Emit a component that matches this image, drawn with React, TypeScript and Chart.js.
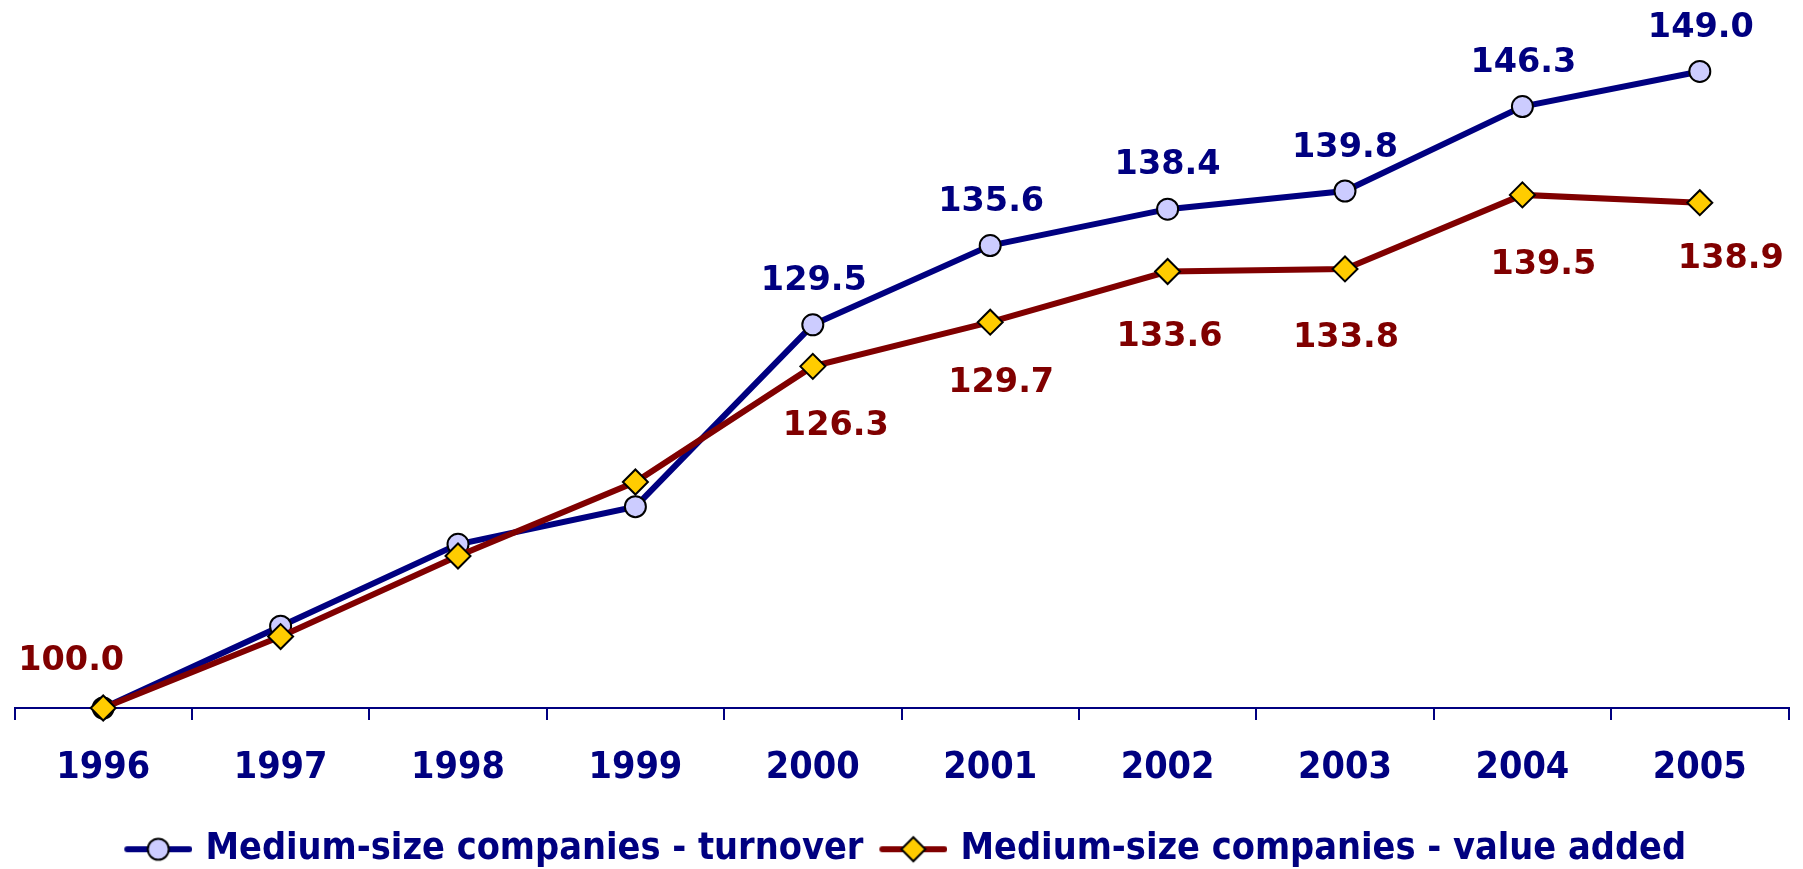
import React, { useEffect, useRef } from "react";
import { Chart, registerables } from "chart.js";

Chart.register(...registerables);

// ---- data ----
const years = ["1996", "1997", "1998", "1999", "2000", "2001", "2002", "2003", "2004", "2005"];
const turnover = [100.0, 106.3, 112.6, 115.5, 129.5, 135.6, 138.4, 139.8, 146.3, 149.0];
const valueAdded = [100.0, 105.5, 111.7, 117.4, 126.3, 129.7, 133.6, 133.8, 139.5, 138.9];
const seriesNames = ["Medium-size companies - turnover", "Medium-size companies - value added"];

// ---- label placement (offsets of label centre from its point, px; null = no label) ----
const turnoverLabelOffsets: ([number, number] | null)[] = [
  null, null, null, null, [1, -47], [1, -47], [0, -47], [0, -46], [1, -47], [1, -47],
];
const valueAddedLabelOffsets: ([number, number] | null)[] = [
  [-32, -50], null, null, null, [23, 56], [11, 58], [2, 62], [1, 66], [21, 67], [31, 53],
];

const NAVY = "#000080";
const MAROON = "#800000";
const CIRCLE_FILL = "#CCCCFF";
const DIAMOND_FILL = "#FFCC00";
const FAMILY = "'DejaVu Sans Condensed', 'DejaVu Sans', sans-serif";
const LABEL_FAMILY = "'DejaVu Sans', sans-serif";
const LABEL_SIZE = 33.5;
const TICK_SIZE = 37.5;
const LEGEND_SIZE = 37.5;

function makeLegendMarker(kind: "circle" | "diamond"): HTMLCanvasElement {
  const c = document.createElement("canvas");
  const W = 76;
  const H = 30;
  c.width = W;
  c.height = H;
  const g = c.getContext("2d")!;
  const x0 = 8;
  const x1 = 76;
  const cy = H / 2;
  const cx = (x0 + x1) / 2;
  g.lineCap = "round";
  g.lineWidth = 6;
  g.strokeStyle = kind === "circle" ? NAVY : MAROON;
  g.beginPath();
  g.moveTo(x0 + 3, cy);
  g.lineTo(x1 - 3, cy);
  g.stroke();
  g.lineWidth = 2;
  g.strokeStyle = "#000000";
  if (kind === "circle") {
    g.fillStyle = CIRCLE_FILL;
    g.beginPath();
    g.arc(cx, cy, 10.5, 0, Math.PI * 2);
    g.fill();
    g.stroke();
  } else {
    g.fillStyle = DIAMOND_FILL;
    const r = 12;
    g.beginPath();
    g.moveTo(cx, cy - r);
    g.lineTo(cx + r, cy);
    g.lineTo(cx, cy + r);
    g.lineTo(cx - r, cy);
    g.closePath();
    g.fill();
    g.stroke();
  }
  return c;
}

const pointLabelPlugin = {
  id: "pointLabels",
  afterDatasetsDraw(chart: any) {
    const ctx = chart.ctx as CanvasRenderingContext2D;
    chart.data.datasets.forEach((ds: any, i: number) => {
      const meta = chart.getDatasetMeta(i);
      const offs = ds.labelOffsets as ([number, number] | null)[];
      meta.data.forEach((pt: any, j: number) => {
        const o = offs[j];
        if (!o) return;
        ctx.save();
        ctx.font = `bold ${LABEL_SIZE}px ${LABEL_FAMILY}`;
        ctx.fillStyle = ds.labelColor;
        ctx.textAlign = "center";
        ctx.textBaseline = "alphabetic";
        ctx.fillText((ds.data[j] as number).toFixed(1), pt.x + o[0], pt.y + o[1] + LABEL_SIZE * 0.729 / 2);
        ctx.restore();
      });
    });
  },
};

export default function App() {
  const ref = useRef<HTMLCanvasElement | null>(null);

  useEffect(() => {
    if (!ref.current) return;
    const markers = [makeLegendMarker("circle"), makeLegendMarker("diamond")];
    const chart = new Chart(ref.current, {
      type: "line",
      data: {
        labels: years,
        datasets: [
          {
            label: seriesNames[0],
            data: turnover,
            borderColor: NAVY,
            borderWidth: 6,
            pointStyle: "circle",
            pointRadius: 10.5,
            pointBackgroundColor: CIRCLE_FILL,
            pointBorderColor: "#000000",
            pointBorderWidth: 2,
            tension: 0,
            clip: false,
            order: 2,
            labelOffsets: turnoverLabelOffsets,
            labelColor: NAVY,
          } as any,
          {
            label: seriesNames[1],
            data: valueAdded,
            borderColor: MAROON,
            borderWidth: 6,
            pointStyle: "rectRot",
            pointRadius: 12.5,
            pointBackgroundColor: DIAMOND_FILL,
            pointBorderColor: "#000000",
            pointBorderWidth: 2,
            tension: 0,
            clip: false,
            order: 1,
            labelOffsets: valueAddedLabelOffsets,
            labelColor: MAROON,
          } as any,
        ],
      },
      options: {
        responsive: false,
        animation: false,
        layout: { padding: { left: 12, right: 7, top: 58.5, bottom: 0 } },
        scales: {
          x: {
            offset: true,
            grid: {
              offset: true,
              drawOnChartArea: false,
              drawTicks: true,
              tickLength: 12,
              color: NAVY,
              lineWidth: 2,
            },
            border: { display: true, color: NAVY, width: 2 },
            ticks: {
              color: NAVY,
              padding: 26,
              font: { family: FAMILY, size: TICK_SIZE, weight: "bold" },
              maxRotation: 0,
              autoSkip: false,
            },
          },
          y: {
            display: false,
            min: 100,
            max: 150,
          },
        },
        plugins: {
          tooltip: { enabled: false },
          legend: {
            position: "bottom",
            labels: {
              usePointStyle: true,
              pointStyleWidth: 64.75,
              padding: 13.5,
              color: NAVY,
              font: { family: FAMILY, size: LEGEND_SIZE, weight: "bold" },
              generateLabels: () =>
                seriesNames.map((name, i) => ({
                  text: name,
                  pointStyle: markers[i] as any,
                  fillStyle: "transparent",
                  strokeStyle: "transparent",
                  lineWidth: 0,
                  hidden: false,
                  datasetIndex: i,
                  fontColor: NAVY,
                })),
            },
          },
        },
      },
      plugins: [pointLabelPlugin],
    });
    return () => chart.destroy();
  }, []);

  return (
    <div style={{ position: "fixed", left: 0, top: 0, width: 1803, height: 869, overflow: "hidden", background: "#fff" }}>
      <canvas ref={ref} width={1803} height={878} style={{ display: "block", width: 1803, height: 878 }} />
    </div>
  );
}
